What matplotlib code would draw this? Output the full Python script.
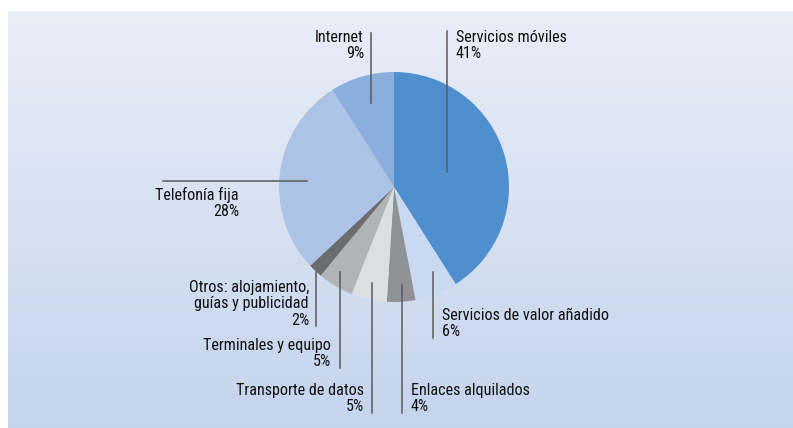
import numpy as np
import matplotlib.pyplot as plt

# share of revenue by service
categories = ['Servicios móviles', 'Servicios de valor añadido', 'Enlaces alquilados',
              'Transporte de datos', 'Terminales y equipo',
              'Otros: alojamiento,\nguías y publicidad', 'Telefonía fija', 'Internet']
values = [41, 6, 4, 5, 5, 2, 28, 9]
colors = ['#4f8fcd', '#c8d9f0', '#8f9194', '#dddee1', '#b2b3b6', '#6b6c6f', '#adc3e6', '#8aafdc']

W, H = 793, 428
fig = plt.figure(figsize=(W / 100, H / 100), dpi=100)
fig.patch.set_facecolor('white')
ax = fig.add_axes([0, 0, 1, 1])

# gradient panel behind the chart
grad = np.linspace(0, 1, 256).reshape(-1, 1)
top = np.array([0.914, 0.933, 0.969])
bot = np.array([0.769, 0.831, 0.929])
img = top + (bot - top) * grad[:, :, None]
ax.imshow(img, extent=[8, W, 0, H - 11], aspect='auto', zorder=0)

ax.pie(values, colors=colors, startangle=90, counterclock=False,
       center=(394, H - 187), radius=115,
       wedgeprops=dict(linewidth=0), frame=True)

ax.set_xlim(0, W)
ax.set_ylim(0, H)
ax.set_aspect('equal')
ax.axis('off')

font = ['Roboto Condensed', 'PT Sans Narrow', 'DejaVu Sans']
fs = 11.6

# label layout: (text x, text top y, align, leader line x0, y0, x1, y1) in pixels from top-left
layout = [
    (456, 30, 'left', 447, 31, 447, 172),
    (442, 308, 'left', 433, 272, 433, 338),
    (411, 383, 'left', 402, 285, 402, 413),
    (364, 383, 'right', 372, 283, 372, 413),
    (331, 338, 'right', 340, 272, 340, 368),
    (309, 280, 'right', 316, 272, 316, 326),
    (239, 187, 'right', 163, 181, 307, 181),
    (364, 30, 'right', 371, 33, 371, 103),
]

for name, v, lay in zip(categories, values, layout):
    tx, ty, ha, x0, y0, x1, y1 = lay
    ax.plot([x0, x1], [H - y0, H - y1], color='#5a5a5a', lw=1.1, zorder=3)
    ax.text(tx, H - ty, f'{name}\n{v}%', ha=ha, va='top', multialignment=ha,
            fontsize=fs, family=font, color='#111111', linespacing=1.12, zorder=4)

fig.savefig('out.png', dpi=100)
